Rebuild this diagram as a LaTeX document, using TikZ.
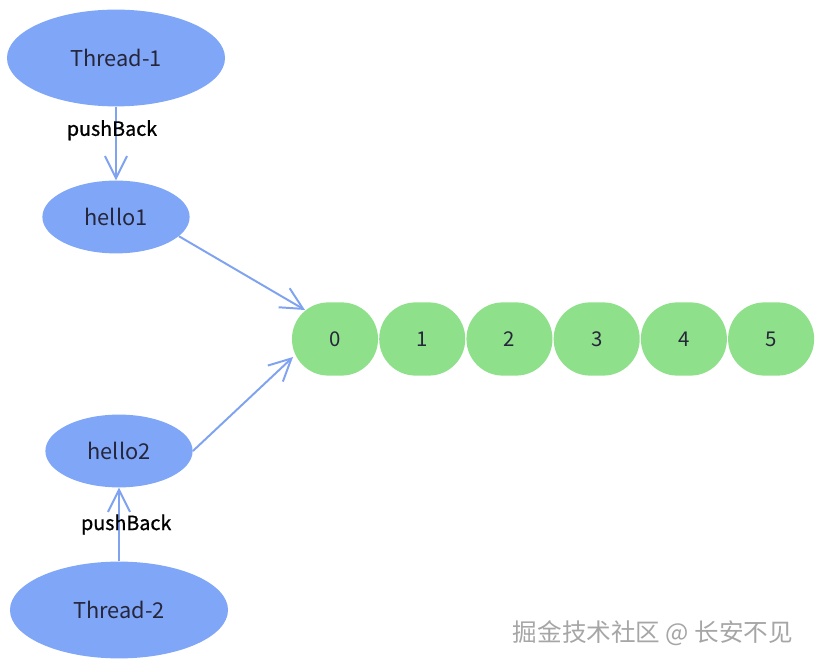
\documentclass[tikz,border=0pt]{standalone}
\usepackage{fontspec}
\setmainfont{Noto Sans CJK SC}
\newfontfamily\pushfont{Noto Sans CJK SC}[FakeBold=0.9]
\usepackage{tikz}
\usetikzlibrary{shapes,arrows.meta,calc}
\usetikzlibrary{positioning}
\definecolor{threadblue}{HTML}{80A6F8}
\definecolor{edgeblue}{HTML}{7FA3F0}
\definecolor{slotgreen}{HTML}{8FE08A}
\definecolor{labelgray}{HTML}{26263A}
\tikzset{thread/.style={ellipse,fill=threadblue,inner sep=0pt,minimum width=5.45cm,
  minimum height=2.42cm,text=labelgray,font=\fontsize{15.5}{18}\selectfont},
msg/.style={thread,minimum width=3.68cm,minimum height=1.82cm},
slot/.style={rectangle,rounded corners=0.91cm,fill=slotgreen,inner sep=0pt,minimum width=2.15cm,
  minimum height=1.83cm,text=labelgray,font=\fontsize{14.5}{17}\selectfont},
push/.style={font=\pushfont\fontsize{14}{16}\selectfont,text=black}
}

\begin{document}
\begin{tikzpicture}[> = {Straight Barb[length=5.5mm,width=5.5mm]}, x=0.025cm, y=-0.025cm,
    node distance=2.18cm, on grid]
    \useasboundingbox (0,0) rectangle (816,668);
    \node[thread] (t1) at (116,58)    {Thread-1};
    \node[msg]    (h1) at (116,217)   {hello1};
    \node[msg]    (h2) at (119,451)   {hello2};
    \node[thread] (t2) at (119,610)   {Thread-2};

    \node[slot] (s0) at (335,339) {0};
    \node[slot] (s1) [right=of s0]  {1};
    \node[slot] (s2) [right=of s1]  {2};
    \node[slot] (s3) [right=of s2]  {3};
    \node[slot] (s4) [right=of s3]  {4};
    \node[slot] (s5) [right=of s4]  {5};

    \path[->,color=edgeblue,line width=1.4pt]
          (t1)      edge node [push,pos=0.32,xshift=-0.1cm] {pushBack} (h1)
          (h1.-17)  edge ($(s0)+(-30,-29)$)
          (h2.east) edge ($(s0)+(-42,18)$)
          (t2)      edge node [push,xshift=0.18cm] {pushBack} (h2);

    \node[font=\fontsize{17.5}{20}\selectfont,text=gray!70] (mark) at (653,633) {掘金技术社区 @ 长安不见};
  \end{tikzpicture}
\end{document}
